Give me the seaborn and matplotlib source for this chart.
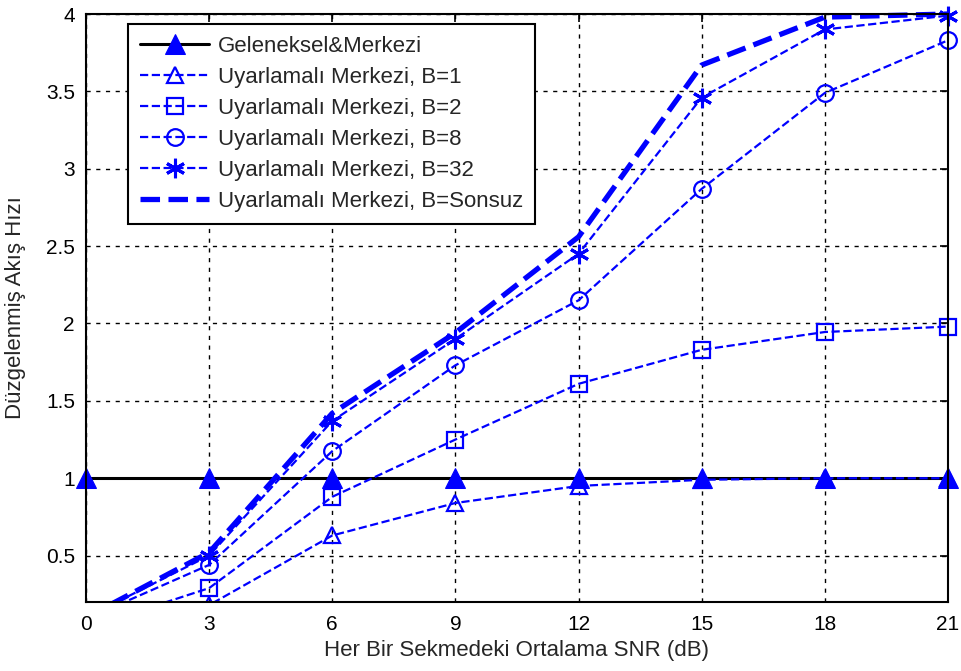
import matplotlib
matplotlib.use("Agg")
import matplotlib.pyplot as plt
import seaborn as sns
import pandas as pd
from matplotlib.patches import Rectangle

snr = [0, 3, 6, 9, 12, 15, 18, 21]
geleneksel = [1.0, 1.0, 1.0, 1.0, 1.0, 1.0, 1.0, 1.0]
b1 = [0.02, 0.18, 0.63, 0.84, 0.95, 0.99, 1.0, 1.0]
b2 = [0.03, 0.29, 0.88, 1.25, 1.61, 1.83, 1.945, 1.98]
b8 = [0.09, 0.44, 1.175, 1.73, 2.15, 2.87, 3.49, 3.83]
b32 = [0.10, 0.50, 1.37, 1.90, 2.45, 3.46, 3.90, 3.99]
binf = [0.10, 0.52, 1.42, 1.94, 2.56, 3.67, 3.98, 4.0]

labels = ["Geleneksel&Merkezi", "Uyarlamalı Merkezi, B=1", "Uyarlamalı Merkezi, B=2",
          "Uyarlamalı Merkezi, B=8", "Uyarlamalı Merkezi, B=32", "Uyarlamalı Merkezi, B=Sonsuz"]
xticks = [0, 3, 6, 9, 12, 15, 18, 21]
yticks = [0.5, 1, 1.5, 2, 2.5, 3, 3.5, 4]
ytick_labels = ["0.5", "1", "1.5", "2", "2.5", "3", "3.5", "4"]

sns.set_style("white")
plt.rcParams['font.family'] = ['Liberation Sans', 'DejaVu Sans']

fig = plt.figure(figsize=(9.62, 6.71), dpi=100)
ax = fig.add_axes([0.0894, 0.1028, 0.8960, 0.8763])

blue = (0, 0, 1)
series = [geleneksel, b1, b2, b8, b32, binf]
styles = [
    dict(color="black", linestyle="-", linewidth=2.2, marker="^", markersize=15,
         markerfacecolor=blue, markeredgecolor=blue),
    dict(color=blue, linestyle="--", linewidth=1.6, marker="^", markersize=12,
         markerfacecolor="none", markeredgecolor=blue, markeredgewidth=1.6),
    dict(color=blue, linestyle="--", linewidth=1.6, marker="s", markersize=12,
         markerfacecolor="none", markeredgecolor=blue, markeredgewidth=1.6),
    dict(color=blue, linestyle="--", linewidth=1.6, marker="o", markersize=12,
         markerfacecolor="none", markeredgecolor=blue, markeredgewidth=1.6),
    dict(color=blue, linestyle="--", linewidth=1.6, marker=(6, 2, 0), markersize=14,
         markeredgecolor=blue, markeredgewidth=2.2),
    dict(color=blue, linestyle="--", linewidth=3.8),
]
for vals, lab, st in zip(series, labels, styles):
    df = pd.DataFrame({"x": snr, "y": vals})
    sns.lineplot(data=df, x="x", y="y", ax=ax, label=lab, **st)

# let markers at the left/right/top edges show fully, but keep lines clipped at the bottom
clip = Rectangle((-0.05, 0.0), 1.1, 1.06, transform=ax.transAxes, facecolor="none", edgecolor="none")
ax.add_patch(clip)
for ln in ax.get_lines():
    ln.set_clip_path(clip)

ax.set_xlim(0, 21)
ax.set_ylim(0.2, 4)
ax.set_xticks(xticks)
ax.set_xticklabels([str(t) for t in xticks])
ax.set_yticks(yticks)
ax.set_yticklabels(ytick_labels)
ax.grid(True, color="black", linestyle=(0, (3, 4)), linewidth=1.0)
ax.tick_params(direction="in", top=True, right=True, length=6, width=1.2, labelsize=15,
               colors="black")
ax.tick_params(axis="x", pad=9)
ax.tick_params(axis="y", pad=8)
for s in ax.spines.values():
    s.set_color("black")
    s.set_linewidth(1.5)
ax.set_xlabel("Her Bir Sekmedeki Ortalama SNR (dB)", fontsize=16)
ax.set_ylabel("Düzgelenmiş Akış Hızı", fontsize=16)
ax.xaxis.set_label_coords(0.5, -0.083)
ax.xaxis.label.set_va("center")
ax.yaxis.set_label_coords(-0.082, 0.5)
ax.yaxis.label.set_va("center")

leg = ax.legend(loc="upper left", bbox_to_anchor=(0.0487, 0.983), borderaxespad=0,
                fontsize=16, frameon=True, fancybox=False, edgecolor="black",
                handlelength=3.1, borderpad=0.55, labelspacing=0.45, handletextpad=0.4)
leg.get_frame().set_linewidth(1.5)
leg.get_frame().set_alpha(1)

fig.savefig("out.png", dpi=100)
